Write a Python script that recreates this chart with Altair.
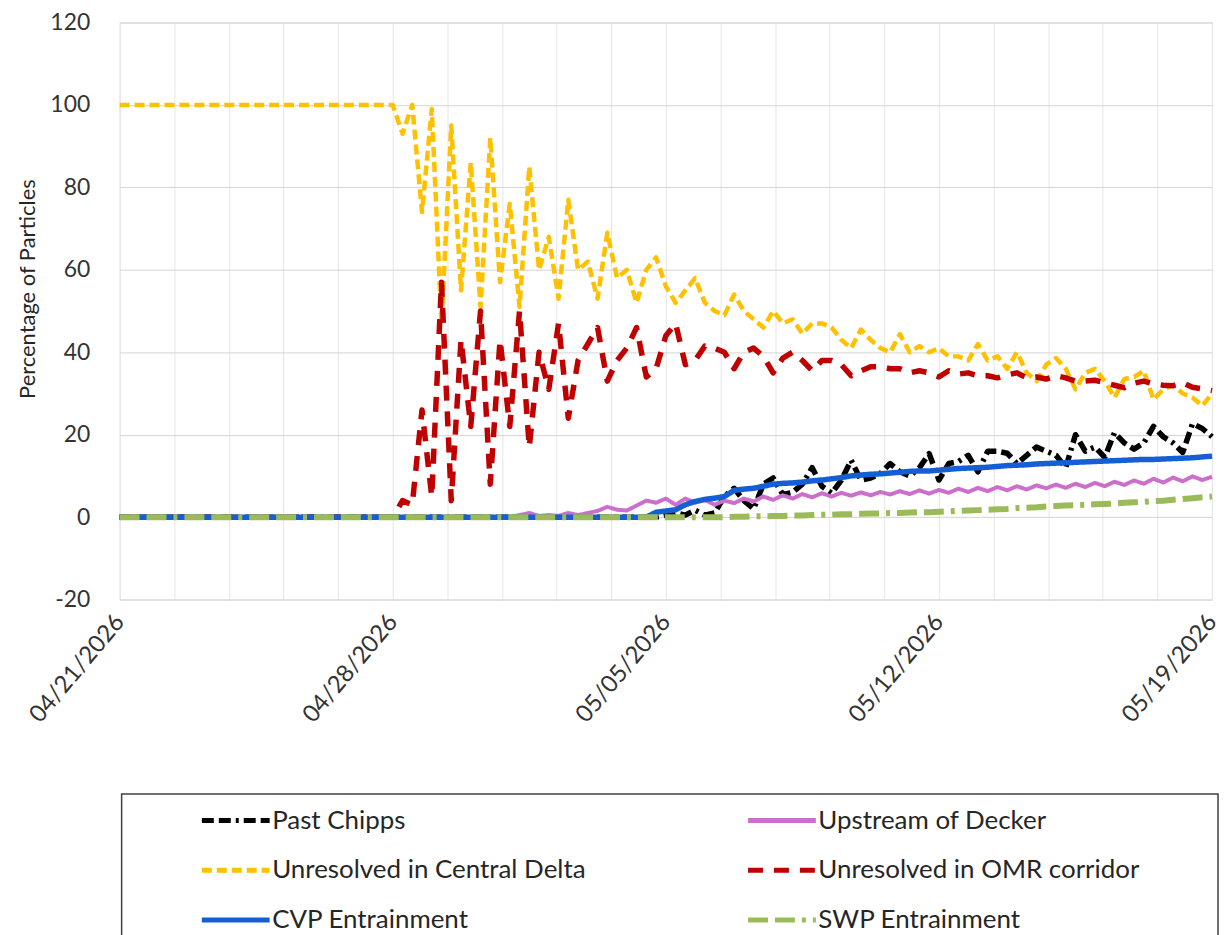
import altair as alt
import pandas as pd

# ---------------- data ----------------
series_names = [
    "Past Chipps",
    "Upstream of Decker",
    "Unresolved in Central Delta",
    "Unresolved in OMR corridor",
    "CVP Entrainment",
    "SWP Entrainment",
]
colors = ["#000000", "#cc6fcc", "#ffc000", "#c00000", "#145fd6", "#9bbb59"]
dashes = [[12, 5, 12, 5, 3, 5], [1, 0], [10, 5], [15, 11], [1, 0], [20, 7, 20, 7, 4, 7]]
widths = [5.5, 4, 4.5, 5.5, 5.5, 6]

# legend reading order (the legend fills column by column)
legend_order = [
    "Past Chipps",
    "Unresolved in Central Delta",
    "CVP Entrainment",
    "Upstream of Decker",
    "Unresolved in OMR corridor",
    "SWP Entrainment",
]

# days after 04/21/2026: start point, then every 6 h from 04/28 to 05/19
day_offsets = [0.0] + [7 + 0.25 * k for k in range(85)]

central_delta = [100.0] + [
    100, 93, 100, 74, 99, 47, 95, 55, 86, 51,
    92, 57, 76, 51, 85, 60, 68, 53, 77, 60,
    62, 53, 69, 58, 60, 52, 60, 63, 56, 52,
    55, 58, 52, 50, 49, 54, 50, 48, 46, 50,
    47, 48, 44.5, 47, 47, 46, 43, 41, 45.5, 43,
    41, 40, 44.4, 40, 41.5, 40, 41, 39, 39, 38,
    42, 38, 39, 36, 40, 35, 33, 37, 38.6, 36,
    31, 35, 36, 33, 29, 33.5, 34, 35.5, 28.5, 31,
    32, 30, 29, 27, 30,
]

omr_corridor = [0.0] + [
    0, 4, 3, 26, 5, 57, 4, 43, 22, 50,
    8, 43, 22, 50, 17, 40, 31, 47, 24, 38,
    42, 46, 33, 38, 41, 46, 34, 36, 44, 47,
    37, 38, 41.5, 41, 40, 36, 40, 41, 39, 35,
    38.6, 40, 38, 35.5, 38, 38, 37, 34.3, 35.5, 36.5,
    36.5, 36, 36, 35, 35.5, 35, 34, 35.5, 34.7, 35,
    34.3, 34.3, 33.8, 34.5, 35, 33.8, 34, 33.5, 34.3, 33.8,
    33, 33, 33.2, 32.6, 32, 31.4, 32.5, 33, 32.3, 32,
    31.9, 32.6, 31.5, 31.1, 30.7,
]

past_chipps = [0.0] + [0.0] * 28 + [
    0.5, 1, 0.5, 1.7, 0.5, 1, 5, 7, 4, 2,
    8, 9.5, 5.5, 6, 8, 12, 7.5, 5.8, 9, 13.8,
    9, 9.5, 10.6, 13, 11, 10, 12, 15.4, 9, 13,
    13.5, 15, 11, 16, 16, 15.5, 13, 15, 17, 16,
    15, 12, 20, 16, 17, 14.5, 20.5, 18, 16.5, 18,
    22, 19.5, 18, 15.7, 22.7, 21.5, 19.5,
]

cvp = [0.0] + [0.0] * 27 + [
    1.2, 1.5, 1.8, 3, 3.8, 4.3, 4.6, 5, 6.5, 6.8,
    7, 7.5, 8, 8.2, 8.3, 8.5, 8.8, 9, 9.3, 9.6,
    10, 10.2, 10.4, 10.5, 10.7, 10.9, 11.1, 11.2, 11.2, 11.4,
    11.6, 11.8, 11.9, 12, 12.1, 12.3, 12.5, 12.6, 12.7, 12.9,
    13, 13.1, 13.2, 13.3, 13.4, 13.5, 13.6, 13.7, 13.8, 13.9,
    14, 14, 14.1, 14.2, 14.3, 14.4, 14.6, 14.8,
]

upstream_decker = [0.0] + [0.0] * 13 + [
    0.5, 1, 0.3, 0.5, 0.3, 1, 0.5, 1, 1.5, 2.5,
    1.8, 1.6, 2.8, 4, 3.5, 4.5, 3, 4.5, 3.5, 4.2,
    3, 4, 3.4, 4.5, 3.8, 5, 4.2, 5.3, 4.5, 5.6,
    4.8, 5.8, 5, 5.9, 5.2, 6, 5.3, 6.1, 5.5, 6.3,
    5.6, 6.5, 5.7, 6.6, 5.9, 6.9, 6.1, 7.1, 6.3, 7.3,
    6.5, 7.5, 6.7, 7.7, 7, 7.9, 7.1, 8.1, 7.3, 8.3,
    7.5, 8.6, 7.8, 8.9, 8.1, 9.3, 8.4, 9.6, 8.7, 9.9,
    9, 9.8,
]

swp = [0.0] + [0.0] * 35 + [
    0.1, 0.1, 0.2, 0.2, 0.3, 0.3, 0.4, 0.4, 0.5, 0.6,
    0.6, 0.7, 0.7, 0.8, 0.9, 0.9, 1.0, 1.0, 1.1, 1.2,
    1.2, 1.3, 1.4, 1.5, 1.6, 1.7, 1.8, 1.9, 2.0, 2.2,
    2.3, 2.4, 2.6, 2.7, 2.8, 2.9, 3.0, 3.1, 3.2, 3.3,
    3.5, 3.6, 3.7, 3.9, 4.0, 4.2, 4.4, 4.6, 4.8, 5.0,
]

all_values = [past_chipps, upstream_decker, central_delta, omr_corridor, cvp, swp]

x_grid_days = [round(1.4 * i, 4) for i in range(21)]
y_ticks = [-20, 0, 20, 40, 60, 80, 100, 120]

# ---------------- chart ----------------
rows = []
for name, vals in zip(series_names, all_values):
    for d, v in zip(day_offsets, vals):
        rows.append({"day": d, "value": v, "series": name})
df = pd.DataFrame(rows)

FONT = "Lato"
color_map = dict(zip(series_names, colors))
dash_map = dict(zip(series_names, dashes))

legend = alt.Legend(
    title=None,
    orient="none",
    legendX=80,
    legendY=764,
    columns=2,
    columnPadding=152,
    rowPadding=-25,
    symbolType="stroke",
    symbolSize=4624,
    symbolStrokeWidth=5,
    labelFontSize=26,
    labelFont=FONT,
    labelColor="#262626",
    labelOffset=0,
    labelLimit=0,
)

x_enc = alt.X(
    "day:Q",
    scale=alt.Scale(domain=[0, 28], nice=False, zero=False),
    axis=alt.Axis(
        values=x_grid_days,
        labelExpr="(datum.value % 7 == 0) ? utcFormat(utc(2026, 3, 21 + datum.value), '%m/%d/%Y') : ''",
        labelAngle=-50,
        labelAlign="right",
        labelBaseline="middle",
        labelFontSize=24,
        labelColor="#333333",
        labelPadding=18,
        labelOverlap=False,
        labelFlush=False,
        labelBound=False,
        grid=True,
        gridColor="#e6e6e6",
        ticks=False,
        domain=False,
        title=None,
    ),
)
y_enc = alt.Y(
    "value:Q",
    scale=alt.Scale(domain=[-20, 120], nice=False, zero=False),
    axis=alt.Axis(
        values=y_ticks,
        labelExpr="'' + datum.value",
        labelFontSize=23,
        labelColor="#333333",
        labelPadding=30,
        grid=True,
        gridColor="#d4d4d4",
        ticks=False,
        domain=False,
        title="Percentage of Particles",
        titleFontSize=22,
        titleFontWeight="normal",
        titleColor="#262626",
        titlePadding=10,
        titleY=267,
    ),
)
color_enc = alt.Color(
    "series:N",
    scale=alt.Scale(domain=legend_order, range=[color_map[n] for n in legend_order]),
    legend=legend,
)
dash_enc = alt.StrokeDash(
    "series:N",
    scale=alt.Scale(domain=legend_order, range=[dash_map[n] for n in legend_order]),
    legend=legend,
)

base = alt.Chart(df)
layers = []
for name, w in zip(series_names, widths):
    layers.append(
        base.transform_filter(alt.datum.series == name)
        .mark_line(strokeWidth=w, strokeJoin="round")
        .encode(x=x_enc, y=y_enc, color=color_enc, strokeDash=dash_enc)
    )

frame = (
    alt.Chart(pd.DataFrame({"a": [0]}))
    .mark_rect(filled=False, stroke="#404040", strokeWidth=1.5)
    .encode(x=alt.value(2), x2=alt.value(1102), y=alt.value(774), y2=alt.value(960))
)

chart = (
    alt.layer(*layers, frame)
    .properties(
        width=1096,
        height=579,
        autosize=alt.AutoSizeParams(type="none"),
        padding={"left": 112, "top": 13, "right": 10, "bottom": 335},
    )
    .configure_view(stroke="#a8a8a8", strokeWidth=1)
    .configure(font=FONT)
)

chart.save("out.html", embed_options={"renderer": "svg", "actions": False})
